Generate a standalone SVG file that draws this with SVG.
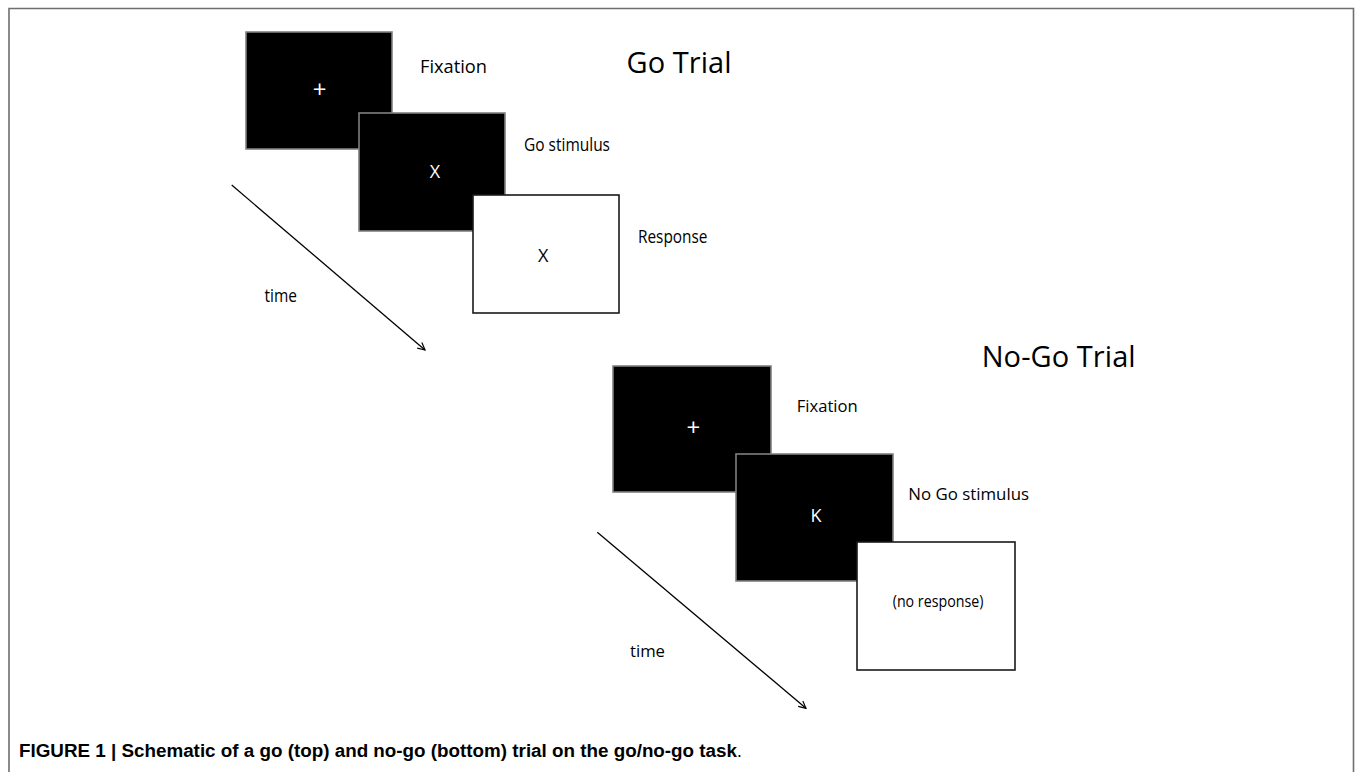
<svg xmlns="http://www.w3.org/2000/svg" width="1355" height="772" viewBox="0 0 1355 772">
<style>
.lbl{font-family:"Open Sans","Liberation Sans",sans-serif;font-size:17.5px;fill:#000}
.lbl2{font-family:"Open Sans","Liberation Sans",sans-serif;font-size:16.5px;fill:#000}
.ttl{font-family:"Open Sans","Liberation Sans",sans-serif;font-size:29px;fill:#000}
.sym{font-family:"Open Sans","Liberation Sans",sans-serif;font-size:18px;fill:#fff;text-anchor:middle}
.plus{font-family:"Open Sans","Liberation Sans",sans-serif;font-size:24px;fill:#fff;text-anchor:middle}
.dark{fill:#000;stroke:#808080;stroke-width:1.6}
.light{fill:#fff;stroke:#1a1a1a;stroke-width:1.6}
.arrow{stroke:#000;stroke-width:1.3;fill:none;marker-end:url(#ah)}
.cap{font-family:"Liberation Sans",Arial,sans-serif;font-size:17.5px;font-weight:bold;fill:#000}
</style>
<defs>
<marker id="ah" viewBox="0 0 10 10" refX="9" refY="5" markerWidth="9" markerHeight="9" markerUnits="userSpaceOnUse" orient="auto">
<path d="M1,1 L9,5 L1,9" fill="none" stroke="#000" stroke-width="1.3"/>
</marker>
</defs>
<rect x="0" y="0" width="1355" height="772" fill="#fff"/>
<path d="M9,772 V8.5 H1353.5 V772" fill="none" stroke="#6e6e6e" stroke-width="1.6"/>

<g id="go-title"><text class="ttl" x="626.5" y="73.3" textLength="105">Go Trial</text></g>
<g id="go-fixation">
<rect class="dark" x="246" y="32" width="146" height="117"/>
<text class="plus" x="319.5" y="97.5">+</text>
<text class="lbl" x="420" y="73" textLength="67" lengthAdjust="spacingAndGlyphs">Fixation</text>
</g>
<g id="go-stimulus">
<rect class="dark" x="359" y="113" width="146" height="118"/>
<text class="sym" x="435" y="178.3">X</text>
<text class="lbl" x="524" y="151" textLength="86" lengthAdjust="spacingAndGlyphs">Go stimulus</text>
</g>
<g id="go-response">
<rect class="light" x="473" y="195" width="146" height="118"/>
<text class="sym" x="543.3" y="261.7" style="fill:#000">X</text>
<text class="lbl" x="638" y="242.7" textLength="69.5" lengthAdjust="spacingAndGlyphs">Response</text>
</g>
<g id="go-time"><text class="lbl" x="264.5" y="301.7" textLength="32.5" lengthAdjust="spacingAndGlyphs">time</text></g>

<g id="nogo-title"><text class="ttl" x="981.7" y="366.7" textLength="154">No-Go Trial</text></g>
<g id="nogo-fixation">
<rect class="dark" x="613" y="366" width="158" height="126"/>
<text class="plus" x="693.3" y="436">+</text>
<text class="lbl2" x="796.7" y="411.7" textLength="61" lengthAdjust="spacingAndGlyphs">Fixation</text>
</g>
<g id="nogo-stimulus">
<rect class="dark" x="736" y="454" width="157" height="127"/>
<text class="sym" x="816" y="521.7">K</text>
<text class="lbl2" x="908.3" y="500" textLength="120.7" lengthAdjust="spacingAndGlyphs">No Go stimulus</text>
</g>
<g id="nogo-response">
<rect class="light" x="857" y="542" width="158" height="128"/>
<text class="lbl2" x="892.7" y="607" textLength="90.7" lengthAdjust="spacingAndGlyphs">(no response)</text>
</g>
<g id="nogo-time"><text class="lbl2" x="630" y="657.3" textLength="35" lengthAdjust="spacingAndGlyphs">time</text></g>

<g id="connectors">
<line class="arrow" x1="231.7" y1="185" x2="425" y2="350"/>
<line class="arrow" x1="597.3" y1="532.3" x2="806" y2="708.3"/>
</g>

<g id="caption">
<text class="cap" x="19" y="757"><tspan textLength="718" lengthAdjust="spacingAndGlyphs">FIGURE 1 | Schematic of a go (top) and no-go (bottom) trial on the go/no-go task</tspan><tspan font-weight="normal">.</tspan></text>
</g>
</svg>
